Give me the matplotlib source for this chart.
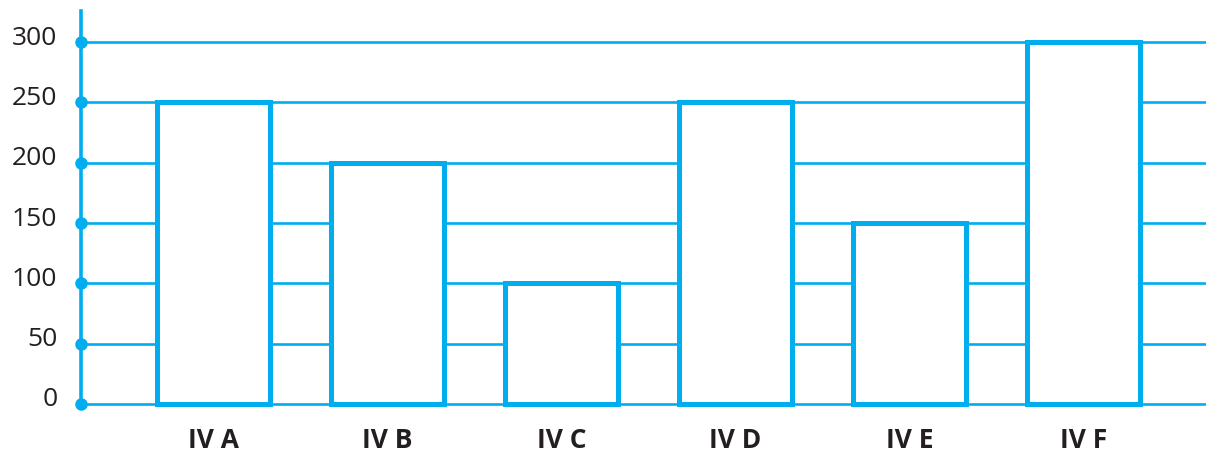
import matplotlib
matplotlib.use("Agg")
import matplotlib.pyplot as plt
import matplotlib.transforms as mtransforms

# Данные диаграммы
categories = ["IV A", "IV B", "IV C", "IV D", "IV E", "IV F"]
values = [250, 200, 100, 250, 150, 300]
y_ticks = [0, 50, 100, 150, 200, 250, 300]

CYAN = "#00AEEF"
TEXT = "#231F20"

plt.rcParams["font.family"] = ["Open Sans", "DejaVu Sans"]

fig = plt.figure(figsize=(12.06, 4.52), dpi=100)
ax = fig.add_axes([81 / 1206, 47 / 452, (1206 - 81) / 1206, (405 - 12) / 452])

x_left = -0.7637
ax.set_xlim(x_left, 5.706)
ax.set_ylim(0, 325.7)

# Горизонтальные линии сетки
for t in y_ticks:
    ax.axhline(t, color=CYAN, linewidth=1.9, zorder=1, clip_on=False)

# Столбцы без заливки
xs = list(range(len(categories)))
ax.bar(xs, values, width=0.652, facecolor="white", edgecolor=CYAN,
       linewidth=3.6, zorder=2, clip_on=False)

# Точки на оси
ax.plot([x_left] * len(y_ticks), y_ticks, "o", color=CYAN, markersize=8,
        zorder=4, clip_on=False)

# Оси
for side in ["top", "right", "bottom"]:
    ax.spines[side].set_visible(False)
ax.spines["left"].set_color(CYAN)
ax.spines["left"].set_linewidth(2.6)
ax.spines["left"].set_zorder(3)

ax.set_yticks(y_ticks)
ax.set_yticklabels([str(t) for t in y_ticks], fontsize=19, color=TEXT)
ax.set_xticks(xs)
ax.set_xticklabels(categories, fontsize=19, fontweight="bold", color=TEXT)
ax.tick_params(axis="y", length=0, pad=17)
ax.tick_params(axis="x", length=0, pad=16)

# Подписи по оси Y чуть выше линий
offset = mtransforms.ScaledTranslation(0, 8 / 100, fig.dpi_scale_trans)
for lbl in ax.get_yticklabels():
    lbl.set_transform(lbl.get_transform() + offset)

fig.savefig("out.png", dpi=100)
